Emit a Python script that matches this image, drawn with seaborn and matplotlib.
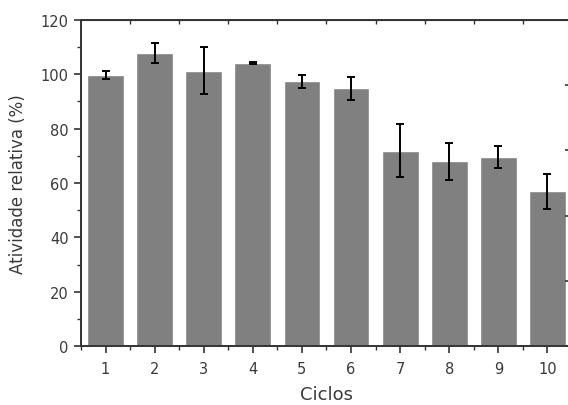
import numpy as np
import pandas as pd
import seaborn as sns
import matplotlib
matplotlib.use("Agg")
import matplotlib.pyplot as plt
from matplotlib.ticker import MultipleLocator, FixedLocator

# values
ciclos = ["1", "2", "3", "4", "5", "6", "7", "8", "9", "10"]
atividade = [99.6, 107.8, 101.3, 104.3, 97.4, 94.8, 71.9, 68.0, 69.7, 56.9]
erro = [1.5, 3.8, 8.6, 0.4, 2.4, 4.1, 9.8, 6.9, 4.1, 6.4]

sns.set_style("white")
plt.rcParams['font.family'] = ['DejaVu Sans']
txt = '#3a3a3a'

df = pd.DataFrame({"Ciclos": ciclos, "Atividade": atividade})

fig = plt.figure(figsize=(5.68, 4.06), dpi=100)
ax = fig.add_axes([0.1426, 0.1453, 0.8644, 0.803])

sns.barplot(data=df, x="Ciclos", y="Atividade", color="#808080", saturation=1,
            width=0.75, errorbar=None, ax=ax)
ax.errorbar(np.arange(len(ciclos)), atividade, yerr=erro, fmt='none',
            ecolor='black', elinewidth=1.4, capsize=3.2, capthick=1.4, zorder=5)

ax.set_xlim(-0.5, 9.5)
ax.set_ylim(0, 120)
ax.yaxis.set_major_locator(MultipleLocator(20))
ax.yaxis.set_minor_locator(MultipleLocator(10))
ax.xaxis.set_minor_locator(FixedLocator(np.arange(-0.5, 10, 1)))

for s in ax.spines.values():
    s.set_color('#333333')
    s.set_linewidth(1.4)

ax.tick_params(axis='both', which='major', direction='out', length=5, width=1.2,
               color='#333333', labelsize=10.5, labelcolor=txt, pad=4,
               bottom=True, left=True)
ax.tick_params(axis='x', which='major', pad=6)
ax.tick_params(axis='both', which='minor', direction='out', length=3, width=1.0,
               color='#333333', bottom=True, left=True)

ax.set_xlabel("Ciclos", fontsize=13, color=txt, labelpad=6)
ax.set_ylabel("Atividade relativa (%)", fontsize=12, color=txt, labelpad=10)

# top ticks between bars, pointing in
top = ax.secondary_xaxis('top')
top.set_xticks(np.arange(0.5, 9, 1))
top.tick_params(direction='in', length=3, width=1.0, color='#333333', labeltop=False)

# right axis with its own scale, ticks pointing in
right = ax.twinx()
right.set_ylim(0, 5)
right.yaxis.set_major_locator(MultipleLocator(1))
right.yaxis.set_minor_locator(MultipleLocator(0.5))
right.tick_params(which='major', direction='in', length=5, width=1.2,
                  color='#333333', labelright=False)
right.tick_params(which='minor', direction='in', length=3, width=1.0,
                  color='#333333')
for s in right.spines.values():
    s.set_visible(False)

fig.savefig("out.png", dpi=100)
